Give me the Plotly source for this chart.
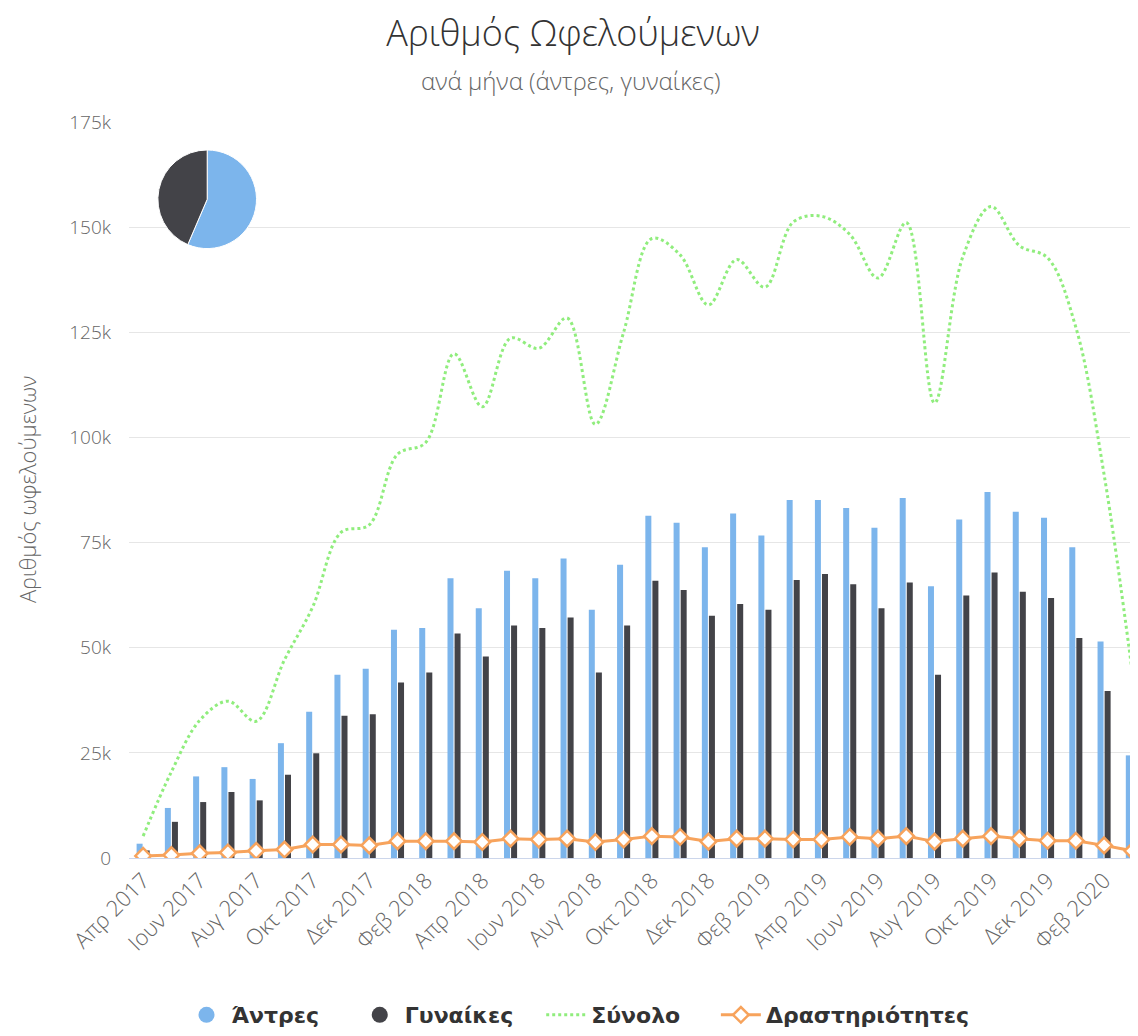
import plotly.graph_objects as go

months = [
    "Απρ 2017", "Μαΐ 2017", "Ιουν 2017", "Ιουλ 2017", "Αυγ 2017", "Σεπ 2017",
    "Οκτ 2017", "Νοε 2017", "Δεκ 2017", "Ιαν 2018", "Φεβ 2018", "Μαρ 2018",
    "Απρ 2018", "Μαΐ 2018", "Ιουν 2018", "Ιουλ 2018", "Αυγ 2018", "Σεπ 2018",
    "Οκτ 2018", "Νοε 2018", "Δεκ 2018", "Ιαν 2019", "Φεβ 2019", "Μαρ 2019",
    "Απρ 2019", "Μαΐ 2019", "Ιουν 2019", "Ιουλ 2019", "Αυγ 2019", "Σεπ 2019",
    "Οκτ 2019", "Νοε 2019", "Δεκ 2019", "Ιαν 2020", "Φεβ 2020", "Μαρ 2020",
]

men = [
    3400, 11900, 19400, 21600, 18800, 27300, 34800, 43600, 45000, 54300, 54700, 66500,
    59400, 68300, 66500, 71200, 59000, 69700, 81400, 79700, 73900, 81900, 76700, 85100,
    85100, 83200, 78500, 85600, 64600, 80500, 87000, 82300, 80900, 73900, 51500, 24400,
]

women = [
    1800, 8600, 13300, 15700, 13700, 19800, 24900, 33800, 34200, 41700, 44100, 53400,
    47900, 55300, 54700, 57200, 44100, 55300, 65900, 63700, 57600, 60400, 59000, 66100,
    67500, 65100, 59400, 65500, 43600, 62400, 67900, 63300, 61800, 52300, 39700, 19600,
]

total = [
    5200, 20500, 32700, 37300, 32500, 47100, 59700, 77400, 79200, 96000, 98800, 119900,
    107300, 123600, 121200, 128400, 103100, 125000, 147300, 143400, 131500, 142300, 135700, 151200,
    152600, 148300, 137900, 151100, 108200, 142900, 154900, 145600, 142700, 126200, 91200, 44000,
]

activities = [
    500, 700, 1100, 1300, 1700, 2000, 3200, 3200, 3000, 4000, 4000, 4000,
    3800, 4600, 4400, 4600, 3800, 4400, 5200, 5000, 3900, 4600, 4600, 4400,
    4400, 5000, 4600, 5200, 3900, 4600, 5200, 4600, 4100, 4100, 3000, 1700,
]

pie_labels = ["Άντρες", "Γυναίκες"]
pie_values = [sum(men), sum(women)]

y_ticks = [0, 25000, 50000, 75000, 100000, 125000, 150000, 175000]
y_tick_text = ["0", "25k", "50k", "75k", "100k", "125k", "150k", "175k"]

BLUE = "#7cb5ec"
DARK = "#434348"
GREEN = "#90ed7d"
ORANGE = "#f7a35c"
FONT = "Open Sans"
LEGEND_FONT = "DejaVu Sans"
NBSP = "\u00a0"

fig = go.Figure()

fig.add_trace(go.Bar(x=months, y=men, name="Άντρες", marker=dict(color=BLUE, line=dict(width=0)),
                     showlegend=False))
fig.add_trace(go.Bar(x=months, y=women, name="Γυναίκες", marker=dict(color=DARK, line=dict(width=0)),
                     showlegend=False))
fig.add_trace(go.Scatter(x=months, y=total, name="Σύνολο", mode="lines",
                         line=dict(color=GREEN, width=3, dash="dot", shape="spline", smoothing=1.0),
                         showlegend=False))
fig.add_trace(go.Scatter(x=months, y=activities, name="Δραστηριότητες", mode="lines+markers",
                         line=dict(color=ORANGE, width=3),
                         marker=dict(symbol="diamond", size=12, color="white",
                                     line=dict(color=ORANGE, width=2.5)),
                         showlegend=False))

# legend proxies (circle symbols for the bar series); trailing nbsp widens the item gaps
fig.add_trace(go.Scatter(x=[None], y=[None], mode="markers", name="Άντρες" + NBSP * 4,
                         marker=dict(symbol="circle", size=22, color=BLUE)))
fig.add_trace(go.Scatter(x=[None], y=[None], mode="markers", name="Γυναίκες" + NBSP * 3,
                         marker=dict(symbol="circle", size=22, color=DARK)))
fig.add_trace(go.Scatter(x=[None], y=[None], mode="lines", name="Σύνολο" + NBSP * 4,
                         line=dict(color=GREEN, width=3, dash="dot")))
fig.add_trace(go.Scatter(x=[None], y=[None], mode="lines+markers", name="Δραστηριότητες",
                         line=dict(color=ORANGE, width=3),
                         marker=dict(symbol="diamond", size=12, color="white",
                                     line=dict(color=ORANGE, width=2.5))))

fig.add_trace(go.Pie(labels=pie_labels, values=pie_values, sort=False, direction="clockwise",
                     rotation=0, marker=dict(colors=[BLUE, DARK], line=dict(color="white", width=1)),
                     textinfo="none", hoverinfo="label+value+percent", showlegend=False,
                     domain=dict(x=[0.028, 0.127], y=[0.828, 0.962])))

# page body adds an 8px margin, so the figure is 8px smaller than the window
fig.update_layout(
    width=1130,
    height=1028,
    margin=dict(l=121, r=0, t=114, b=174),
    paper_bgcolor="white",
    plot_bgcolor="white",
    font=dict(family=FONT, color="#666666"),
    barmode="group",
    bargap=0.5,
    bargroupgap=0.15,
    title=dict(text="Αριθμός Ωφελούμενων", x=0.5, xanchor="center", y=0.975, yanchor="middle",
               font=dict(family=FONT, size=36, color="#333333", weight=300)),
    legend=dict(orientation="h", x=0.445, xanchor="center", y=-0.2135, yanchor="middle",
                font=dict(family=LEGEND_FONT, size=22, color="#333333", weight="bold"),
                itemwidth=40, tracegroupgap=0),
    annotations=[
        dict(text="ανά μήνα (άντρες, γυναίκες)", xref="paper", yref="paper", x=0.438, y=1.057,
             xanchor="center", yanchor="middle", showarrow=False,
             font=dict(family=FONT, size=24, color="#666666", weight=300)),
        dict(text="Αριθμός ωφελούμενων", xref="paper", yref="paper", x=-0.101, y=0.5,
             xanchor="center", yanchor="middle", textangle=-90, showarrow=False,
             font=dict(family=FONT, size=22, color="#666666", weight=300)),
    ],
)

fig.update_xaxes(
    type="category",
    categoryorder="array",
    categoryarray=months,
    range=[-0.5, 35.2],
    tickmode="array",
    tickvals=months[::2],
    ticktext=months[::2],
    tickangle=-45,
    tickfont=dict(family=FONT, size=22, color="#666666", weight=300),
    showgrid=False,
    showline=True,
    linecolor="#ccd6eb",
    linewidth=1,
    ticks="",
    automargin=False,
)

fig.update_yaxes(
    range=[0, 175000],
    tickmode="array",
    tickvals=y_ticks,
    ticktext=y_tick_text,
    tickfont=dict(family=FONT, size=19, color="#666666", weight=300),
    showgrid=True,
    gridcolor="#e6e6e6",
    gridwidth=1,
    zeroline=False,
    ticks="",
    ticklabelstandoff=17,
    automargin=False,
)

fig.write_html("out.html")
